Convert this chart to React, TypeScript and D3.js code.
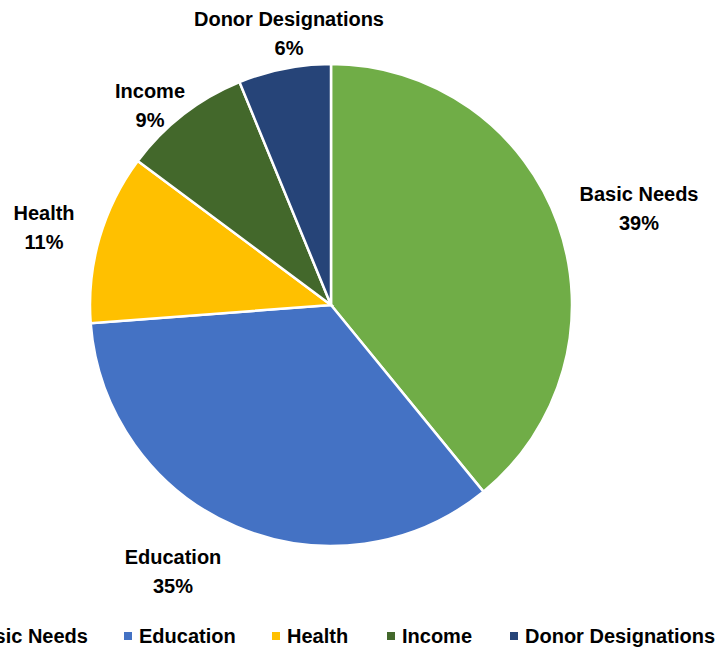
import React from "react";
import * as d3 from "d3";

const categories = ["Basic Needs", "Education", "Health", "Income", "Donor Designations"];
const values = [39.1, 34.7, 11.4, 8.6, 6.2];
const colors = ["#70AD47", "#4472C4", "#FFC000", "#43682B", "#264478"];
const labelPos: [number, number][] = [
  [639, 201],
  [173, 564],
  [44, 220],
  [150, 98],
  [289, 26],
];

const W = 722;
const H = 649;
const cx = 331;
const cy = 305;
const R = 241;
const FONT = "'Liberation Sans', Arial, sans-serif";
const FS = 20;

export default function App() {
  const data = categories.map((c, i) => ({ c, v: values[i], i }));
  const pie = d3.pie<any>().value((d) => d.v).sort(null);
  const arcs = pie(data);
  const arc = d3.arc<any>().innerRadius(0).outerRadius(R);
  const total = d3.sum(values);

  const legendX = [-46, 124, 272, 387, 510];

  return (
    <svg
      width={W}
      height={H}
      style={{ position: "absolute", left: 0, top: 0, background: "#fff" }}
      fontFamily={FONT}
    >
      <g transform={`translate(${cx},${cy})`}>
        {arcs.map((a, i) => (
          <path key={i} d={arc(a) || ""} fill={colors[i]} stroke="#fff" strokeWidth={2.5} />
        ))}
      </g>
      {arcs.map((a, i) => (
        <text
          key={i}
          x={labelPos[i][0]}
          y={labelPos[i][1]}
          textAnchor="middle"
          fontSize={FS}
          fontWeight="bold"
          fill="#000"
        >
          <tspan x={labelPos[i][0]} dy="0">{categories[i]}</tspan>
          <tspan x={labelPos[i][0]} dy="29">{Math.round((values[i] / total) * 100)}%</tspan>
        </text>
      ))}
      {categories.map((c, i) => (
        <g key={c} transform={`translate(${legendX[i]},636)`}>
          <rect x={0} y={-4} width={8} height={8} fill={colors[i]} />
          <text x={15} y={7} fontSize={FS} fontWeight="bold" fill="#000">
            {c}
          </text>
        </g>
      ))}
    </svg>
  );
}
